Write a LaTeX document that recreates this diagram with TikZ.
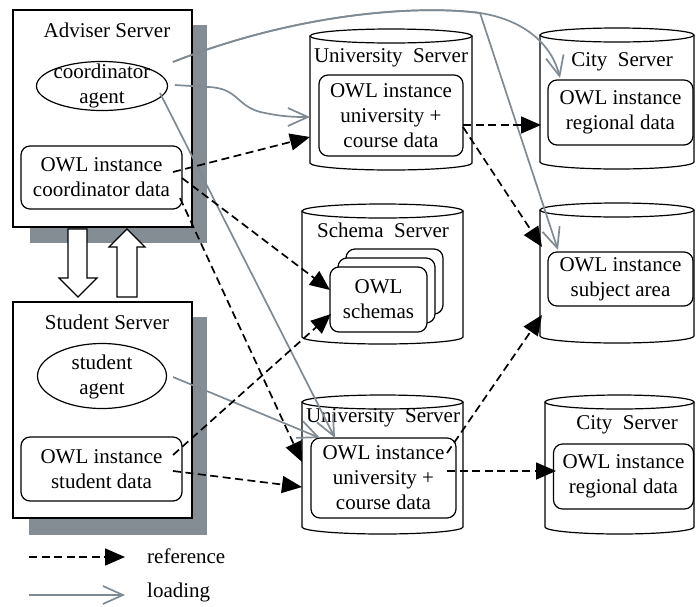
\documentclass[tikz,border=0pt]{standalone}
\usepackage{fontspec}
\setmainfont{Liberation Serif}
\usetikzlibrary{arrows.meta,shapes.geometric}
\definecolor{lgray}{RGB}{128,138,146}
\definecolor{sgray}{RGB}{132,140,148}
\newcommand\cylsrv[5]{%
  \fill[white] (#1,#3) -- (#1,#4) arc[start angle=180,end angle=0,x radius={(#2-#1)/2},y radius=#5] -- (#2,#3) -- cycle;
  \draw[line width=1.2pt] (#1,#3) -- (#1,#4) arc[start angle=180,end angle=0,x radius={(#2-#1)/2},y radius=#5] -- (#2,#3);
  \draw[line width=1.2pt,fill=white] ({(#1+#2)/2},#3) ellipse[x radius={(#2-#1)/2},y radius=#5];}
\begin{document}
\begin{tikzpicture}[x=1pt,y=-1pt,
  every node/.style={font=\fontsize{21}{25}\selectfont, inner sep=0pt, align=center},
  srvbox/.style={draw, line width=1.2pt, fill=white},
  shadowbox/.style={fill=sgray},
  inbox/.style={draw, line width=1.2pt, rounded corners=9pt, fill=white},
  agentell/.style={draw, ellipse, line width=1.2pt, fill=white},
  bigarrow/.style={draw, line width=1.2pt, fill=white},
  load/.style={draw=lgray, line width=1.7pt, -{Straight Barb[length=20pt,width=18pt]}},
  refr/.style={draw=black, line width=1.7pt, dash pattern=on 8pt off 4.5pt, -{Triangle[length=20pt,width=17pt]}},
]
\useasboundingbox (0,0) rectangle (696,606);

% Adviser server
\fill[sgray] (30,25) rectangle (207,243);
\draw[srvbox] (13,10) rectangle (192,227);
\node (advt) at (107,30) {Adviser Server};
\node[agentell, minimum width=131pt, minimum height=49pt] (coord) at (102,86) {};
\node at (102,86) {coordinator\\agent};
\node[inbox, minimum width=161pt, minimum height=63pt] (cdata) at (101.5,177.5) {OWL instance\\coordinator data};

% big arrows
\draw[bigarrow] (68,229) -- (87,229) -- (87,278) -- (97,278) -- (78,297) -- (59,278) -- (68,278) -- cycle;
\draw[bigarrow] (117,297) -- (137,297) -- (137,247) -- (145,247) -- (127,229) -- (109,247) -- (117,247) -- cycle;

% Student server
\fill[sgray] (29,317) rectangle (207,535);
\draw[srvbox] (13,302) rectangle (192,518);
\node (stut) at (107,322) {Student Server};
\node[agentell, minimum width=129pt, minimum height=65pt] (sagent) at (102,376) {};
\node at (102,377) {student\\agent};
\node[inbox, minimum width=161pt, minimum height=64pt] (sdata) at (101.5,469) {OWL instance\\student data};

% Upper University server
\cylsrv{310}{472}{36}{163}{7}
\node (u1t) at (391,58) {University\ \ Server};
\node[inbox, minimum width=144pt, minimum height=81pt] (u1data) at (391,115.5) {OWL instance\\university +\\course data};

% Upper City server
\cylsrv{540}{694}{35}{162}{7}
\node (c1t) at (622,62) {City\ \ Server};
\node[inbox, minimum width=145pt, minimum height=65pt] (c1data) at (620.5,112.5) {OWL instance\\regional data};

% Schema server
\cylsrv{302}{463}{211}{337}{7}
\node (scht) at (383,230) {Schema\ \ Server};
\draw[inbox] (346,249) rectangle (443,314);
\draw[inbox] (338,258) rectangle (435,323);
\node[inbox, minimum width=97pt, minimum height=65pt] (schema) at (378.5,299.5) {OWL\\schemas};

% Subject area server
\cylsrv{540}{694}{210}{336}{7}
\node[inbox, minimum width=145pt, minimum height=54pt] (subj) at (620.5,279) {OWL instance\\subject area};

% Lower University server
\cylsrv{302}{463}{402}{527}{7}
\node (u2t) at (383,418) {University\ \ Server};
\node[inbox, minimum width=145pt, minimum height=80pt] (u2data) at (383.5,478) {OWL instance\\university +\\course data};

% Lower City server
\cylsrv{545}{694}{402}{527}{7}
\node (c2t) at (627,425) {City\ \ Server};
\node[inbox, minimum width=140pt, minimum height=65pt] (c2data) at (623.5,476.5) {OWL instance\\regional data};

% connector end points
\coordinate (ca1) at (173,62);
\coordinate (peak) at (480,13);
\coordinate (c1in) at (560,78);
\coordinate (subjin) at (558,250);
\coordinate (ca2) at (175,85);
\coordinate (ca2b) at (208,87);
\coordinate (u1in) at (310,117);
\coordinate (ca3) at (160,93);
\coordinate (u2inA) at (335,438);
\coordinate (sa1) at (173,377);
\coordinate (u2inB) at (320,438);

\coordinate (cd1) at (173,172);
\coordinate (u1ref) at (310,137);
\coordinate (cd2) at (182,178);
\coordinate (schin1) at (330,290);
\coordinate (cd3) at (180,198);
\coordinate (u2ref1) at (302,462);
\coordinate (sd1) at (173,455);
\coordinate (schin2) at (331,314);
\coordinate (sd2) at (173,471);
\coordinate (u2ref2) at (302,487);
\coordinate (u1o1) at (463,125);
\coordinate (c1ref) at (541,125);
\coordinate (u1o2) at (463,127);
\coordinate (subjref1) at (542,247);
\coordinate (u2o1) at (447,453);
\coordinate (subjref2) at (542,315);
\coordinate (u2o2) at (447,471);
\coordinate (c2ref) at (556,471);

% loading connectors
\draw[load] (ca1) .. controls (300,12) and (420,5) .. (peak) .. controls (525,20) and (552,45) .. (c1in);
\draw[load] (ca1) .. controls (300,12) and (420,5) .. (peak) -- (subjin);
\draw[load] (ca2) -- (ca2b) .. controls (240,88) and (236,108) .. (265,113) .. controls (285,117) and (295,117) .. (u1in);
\draw[load] (ca3) -- (u2inA);
\draw[load] (sa1) -- (u2inB);

% reference connectors
\draw[refr] (cd1) -- (u1ref);
\draw[refr] (cd2) -- (schin1);
\draw[refr] (cd3) -- (u2ref1);
\draw[refr] (sd1) -- (schin2);
\draw[refr] (sd2) -- (u2ref2);
\draw[refr] (u1o1) -- (c1ref);
\draw[refr] (u1o2) -- (subjref1);
\draw[refr] (u2o1) -- (subjref2);
\draw[refr] (u2o2) -- (c2ref);

% legend
\coordinate (lg1a) at (29,557);
\coordinate (lg1b) at (125,557);
\coordinate (lg2a) at (29,595);
\coordinate (lg2b) at (125,595);
\draw[refr] (lg1a) -- (lg1b);
\draw[load] (lg2a) -- (lg2b);
\node[anchor=west] (lgref) at (147,556) {reference};
\node[anchor=west] (lgload) at (147,592) {loading};
\end{tikzpicture}
\end{document}
